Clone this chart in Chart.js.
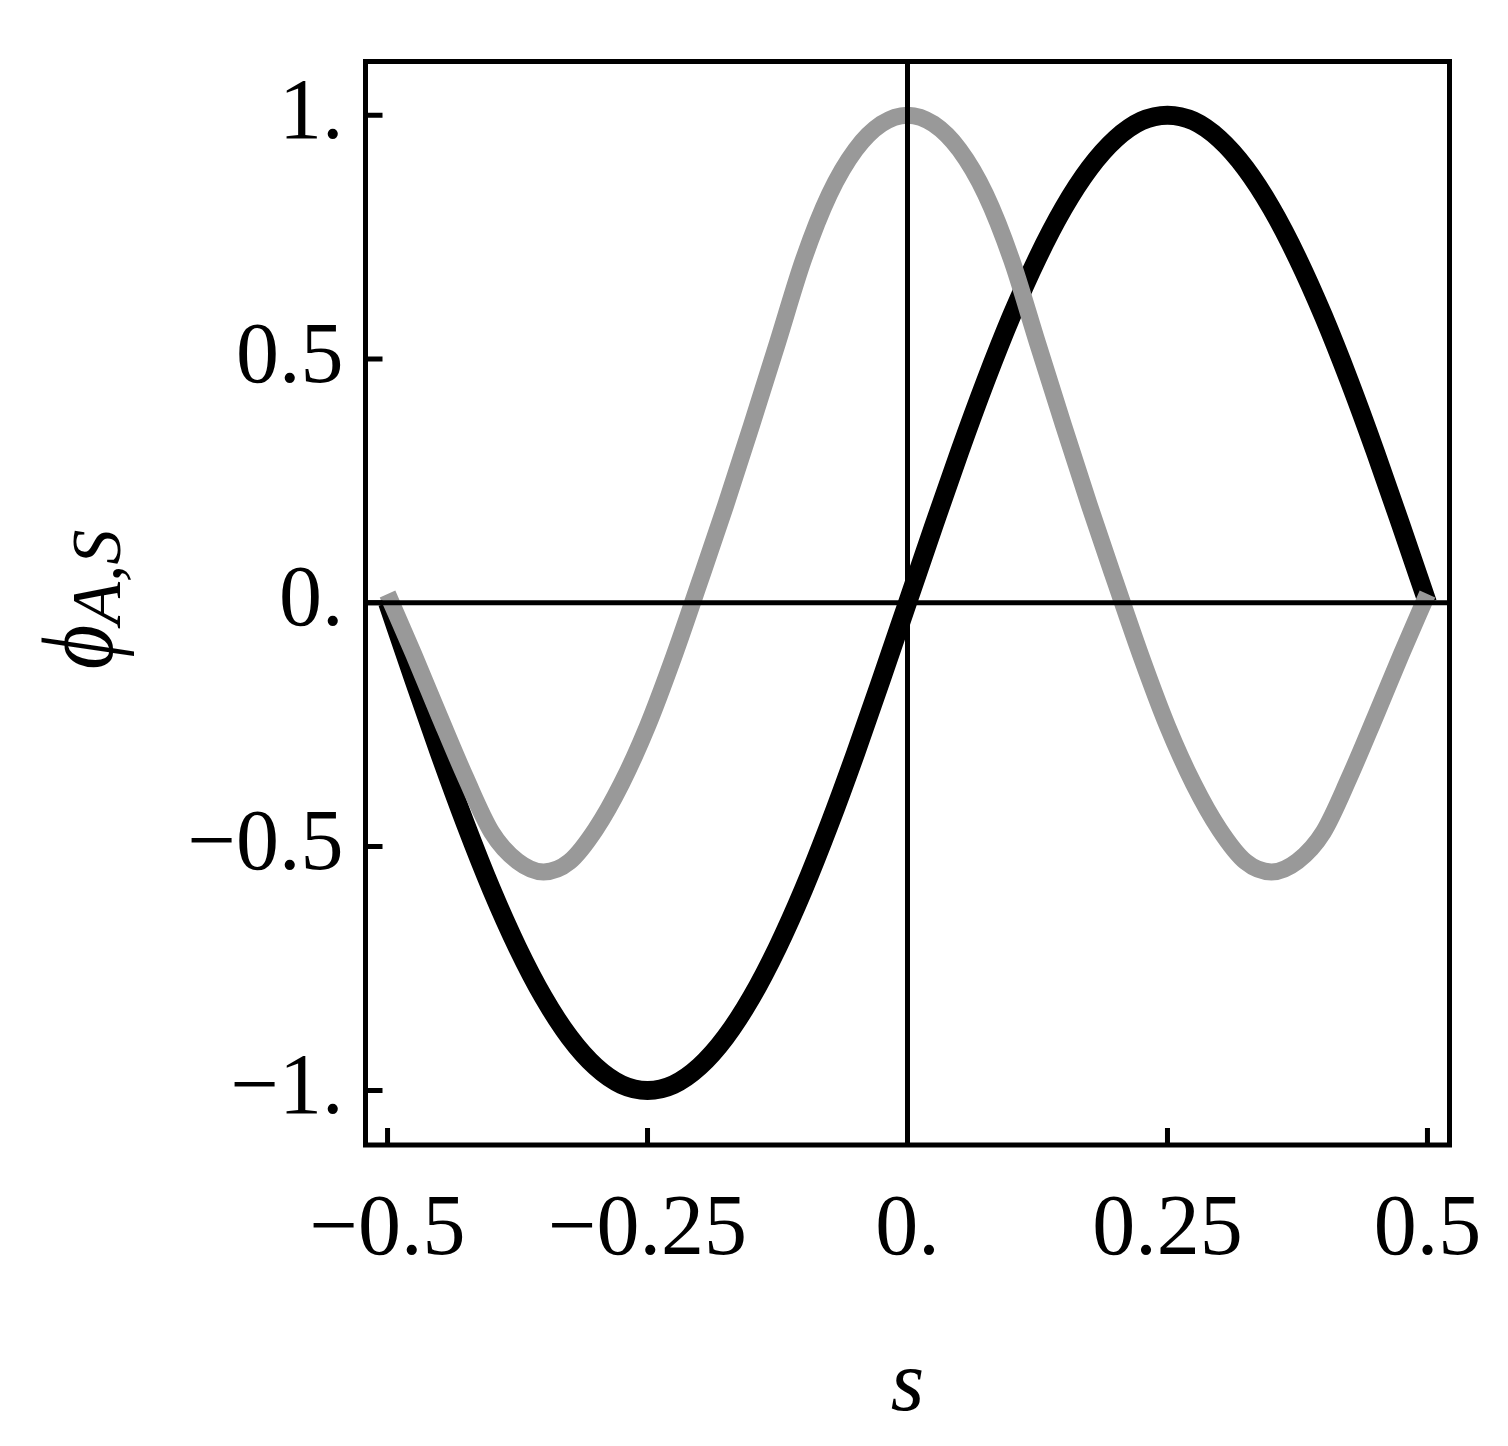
<!DOCTYPE html>
<html>
<head>
<meta charset="utf-8">
<script src="https://cdn.jsdelivr.net/npm/chart.js@4.4.1/dist/chart.umd.min.js"></script>
<style>
  html, body { margin: 0; padding: 0; background: #ffffff; }
  #wrap { width: 1508px; height: 1446px; }
</style>
</head>
<body>
<div id="wrap"><canvas id="c" width="1508" height="1446"></canvas></div>
<script>
// ---- data ----
const sValues = [
  -0.500, -0.475, -0.450, -0.425, -0.400, -0.375, -0.350, -0.325, -0.300, -0.275,
  -0.250, -0.225, -0.200, -0.175, -0.150, -0.125, -0.100, -0.075, -0.050, -0.025,
   0.000,  0.025,  0.050,  0.075,  0.100,  0.125,  0.150,  0.175,  0.200,  0.225,
   0.250,  0.275,  0.300,  0.325,  0.350,  0.375,  0.400,  0.425,  0.450,  0.475,
   0.500
];
// black curve (phi_A)
const phiA = [
   0.000, -0.156, -0.309, -0.454, -0.588, -0.707, -0.809, -0.891, -0.951, -0.988,
  -1.000, -0.988, -0.951, -0.891, -0.809, -0.707, -0.588, -0.454, -0.309, -0.156,
   0.000,  0.156,  0.309,  0.454,  0.588,  0.707,  0.809,  0.891,  0.951,  0.988,
   1.000,  0.988,  0.951,  0.891,  0.809,  0.707,  0.588,  0.454,  0.309,  0.156,
   0.000
];
// gray curve (phi_S)
const phiS = [
   0.018, -0.105, -0.233, -0.358, -0.470, -0.530, -0.552, -0.531, -0.465, -0.371,
  -0.253, -0.112,  0.042,  0.199,  0.364,  0.533,  0.704,  0.838,  0.929,  0.982,
   1.000,  0.982,  0.929,  0.838,  0.704,  0.533,  0.364,  0.199,  0.042, -0.112,
  -0.253, -0.371, -0.465, -0.531, -0.552, -0.530, -0.470, -0.358, -0.233, -0.105,
   0.018
];
const xTickValues = [-0.5, -0.25, 0, 0.25, 0.5];
const xTickLabels = ['\u22120.5', '\u22120.25', '0.', '0.25', '0.5'];
const yTickValues = [-1, -0.5, 0, 0.5, 1];
const yTickLabels = ['\u22121.', '\u22120.5', '0.', '0.5', '1.'];
const xTitle = 's';
const yTitleMain = '\u03D5';
const yTitleSub = 'A,S';

const xRange = [-0.5212, 0.5212];
const yRange = [-1.112, 1.110];

const SERIF = '"Liberation Serif", "Times New Roman", "DejaVu Serif", serif';

// frame, inward ticks and zero lines drawn on top of the curves
const framePlugin = {
  id: 'frame',
  afterDatasetsDraw(chart) {
    const { ctx, chartArea: a, scales } = chart;
    const xs = scales.x, ys = scales.y;
    ctx.save();
    ctx.strokeStyle = '#000000';
    ctx.lineWidth = 5;
    ctx.lineCap = 'butt';
    const x0 = xs.getPixelForValue(0), y0 = ys.getPixelForValue(0);
    ctx.beginPath();
    ctx.moveTo(x0, a.top); ctx.lineTo(x0, a.bottom);
    ctx.moveTo(a.left, y0); ctx.lineTo(a.right, y0);
    ctx.stroke();
    ctx.beginPath();
    xs.ticks.forEach(t => {
      const px = xs.getPixelForValue(t.value);
      ctx.moveTo(px, a.bottom); ctx.lineTo(px, a.bottom - 17);
    });
    ys.ticks.forEach(t => {
      const py = ys.getPixelForValue(t.value);
      ctx.moveTo(a.left, py); ctx.lineTo(a.left + 17, py);
    });
    ctx.stroke();
    ctx.lineJoin = 'miter';
    ctx.strokeRect(a.left, a.top, a.right - a.left, a.bottom - a.top);
    ctx.restore();
  }
};

const titlePlugin = {
  id: 'titles',
  afterDraw(chart) {
    const { ctx, chartArea: a } = chart;
    ctx.save();
    ctx.fillStyle = '#000000';
    ctx.textBaseline = 'alphabetic';
    // x title
    ctx.font = 'italic 86px ' + SERIF;
    ctx.textAlign = 'center';
    ctx.fillText(xTitle, (a.left + a.right) / 2, a.bottom + 265);
    // y title (rotated, reads bottom to top)
    ctx.translate(a.left - 254, (a.top + a.bottom) / 2 + 66);
    ctx.rotate(-Math.PI / 2);
    ctx.textAlign = 'left';
    ctx.font = 'italic 86px ' + SERIF;
    const w = ctx.measureText(yTitleMain).width;
    ctx.save();
    ctx.scale(1, 1.18);
    ctx.fillText(yTitleMain, 0, 0);
    ctx.restore();
    ctx.font = 'italic 70px ' + SERIF;
    ctx.fillText(yTitleSub, w, 8);
    ctx.restore();
  }
};

const ctx = document.getElementById('c').getContext('2d');
new Chart(ctx, {
  type: 'line',
  data: {
    datasets: [
      {
        label: 'phiA',
        data: sValues.map((s, i) => ({ x: s, y: phiA[i] })),
        borderColor: '#000000',
        borderWidth: 19,
        order: 1
      },
      {
        label: 'phiS',
        data: sValues.map((s, i) => ({ x: s, y: phiS[i] })),
        borderColor: '#999999',
        borderWidth: 17,
        order: 0
      }
    ]
  },
  options: {
    responsive: false,
    animation: false,
    devicePixelRatio: 1,
    layout: { padding: { left: 0, right: 58.5, top: 61.5, bottom: 0 } },
    plugins: { legend: { display: false }, tooltip: { enabled: false } },
    elements: {
      point: { radius: 0, hoverRadius: 0 },
      line: { cubicInterpolationMode: 'monotone', borderCapStyle: 'butt', borderJoinStyle: 'round', fill: false }
    },
    scales: {
      x: {
        type: 'linear',
        min: xRange[0], max: xRange[1],
        afterBuildTicks: sc => { sc.ticks = xTickValues.map(v => ({ value: v })); },
        afterFit: sc => { sc.height = 301; sc.paddingLeft = 0; sc.paddingRight = 0; },
        grid: { display: false, drawTicks: false },
        border: { display: false },
        ticks: {
          autoSkip: false, maxRotation: 0, minRotation: 0,
          padding: 35, color: '#000000',
          font: { family: SERIF, size: 86 },
          callback: (v, i) => xTickLabels[i]
        }
      },
      y: {
        type: 'linear',
        min: yRange[0], max: yRange[1],
        afterBuildTicks: sc => { sc.ticks = yTickValues.map(v => ({ value: v })); },
        afterFit: sc => { sc.width = 365.5; sc.paddingTop = 0; sc.paddingBottom = 0; },
        grid: { display: false, drawTicks: false },
        border: { display: false },
        ticks: {
          autoSkip: false, padding: 22, color: '#000000',
          font: { family: SERIF, size: 86 },
          callback: (v, i) => yTickLabels[i]
        }
      }
    }
  },
  plugins: [framePlugin, titlePlugin]
});
</script>
</body>
</html>
